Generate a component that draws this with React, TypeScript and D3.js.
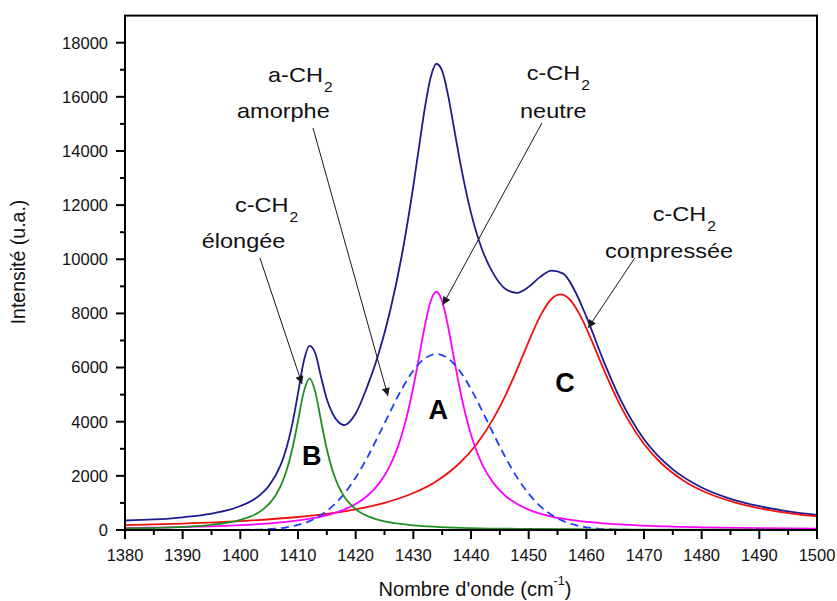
import React from 'react';
import * as d3 from 'd3';

// ---------- data ----------
const totalX = [1380,1385,1390,1395,1400,1403,1405,1407,1408,1409,1410,1411,1412,1413,1414,1415,1416,1417,1418,1420,1422,1424,1426,1428,1430,1431,1432,1433,1434,1435,1436,1437,1438,1440,1442,1444,1446,1448,1450,1452,1454,1456,1458,1460,1463,1466,1470,1475,1480,1485,1490,1495,1500];
const totalY = [350,390,470,607,885,1225,1642,2405,3030,3903,5045,6233,6800,6529,5647,4827,4298,3990,3870,4300,5296,6527,8118,10140,12706,14164,15588,16714,17221,16960,16083,14913,13718,11713,10315,9424,8900,8760,8980,9350,9580,9470,8838,7880,6241,4788,3355,2239,1571,1153,879,690,556];

const greenX = [1380,1390,1395,1400,1403,1404,1406,1407,1408,1409,1410,1411,1412,1413,1414,1415,1416,1417,1418,1420,1423,1426,1430,1440,1450,1460,1480,1500];
const greenY = [55,116,192,372,628,772,1240,1627,2185,2980,4027,5102,5600,5102,4027,2980,2185,1627,1240,772,437,278,172,72,39,25,12,7];

const pinkX = [1380,1390,1400,1405,1410,1414,1418,1420,1422,1424,1426,1427,1428,1429,1430,1431,1432,1433,1434,1435,1436,1437,1438,1439,1440,1441,1442,1444,1446,1448,1450,1454,1458,1463,1470,1480,1490,1500];
const pinkY = [72,108,179,244,352,498,754,960,1257,1703,2400,2893,3520,4310,5280,6400,7543,8448,8800,8448,7543,6400,5280,4310,3520,2893,2400,1703,1257,960,754,498,352,244,160,99,67,48];

const amorphX = [1380,1395,1400,1404,1406,1408,1410,1412,1414,1416,1418,1420,1422,1424,1426,1428,1430,1432,1434,1436,1438,1440,1442,1444,1446,1448,1450,1452,1454,1456,1458,1460,1462,1464,1468,1475,1500];
const amorphY = [0,0,5,25,51,100,186,328,551,880,1339,1938,2672,3506,4378,5205,5889,6341,6500,6341,5889,5205,4378,3506,2672,1938,1339,880,551,328,186,100,51,25,5,0,0];

const redX = [1380,1390,1400,1410,1415,1420,1425,1430,1434,1438,1441,1444,1446,1448,1450,1452,1454,1455.5,1457,1459,1461,1463,1465,1467,1470,1473,1477,1481,1486,1491,1496,1500];
const redY = [181,239,329,480,598,762,1002,1365,1805,2465,3178,4160,4983,5939,6960,7900,8541,8700,8541,7900,6960,5939,4983,4160,3178,2465,1805,1365,1002,762,598,501];

const xTicks = [1380,1390,1400,1410,1420,1430,1440,1450,1460,1470,1480,1490,1500];
const xMinor = [1385,1395,1405,1415,1425,1435,1445,1455,1465,1475,1485,1495];
const yTicks = [0,2000,4000,6000,8000,10000,12000,14000,16000,18000];
const yMinor = [1000,3000,5000,7000,9000,11000,13000,15000,17000];

// annotation texts
const noteMain = ['c-CH', 'a-CH', 'c-CH', 'c-CH'];
const noteLine2 = ['élongée', 'amorphe', 'neutre', 'compressée'];
const noteMainPos = [[1399.07, 11757], [1404.8, 16560], [1449.66, 16622], [1471.51, 11425]];
const noteLine2Pos = [[1393.3, 10406], [1399.42, 15208], [1448.5, 15208], [1463.24, 10036]];
const arrowFrom = [[1403.4, 10047], [1412.6, 14849], [1452.3, 15034], [1468.4, 10047]];
const arrowTo = [[1410.7, 5393], [1425.6, 4950], [1435.1, 8311], [1460.3, 7462]];

const peakLetters = ['A', 'B', 'C'];
const peakLetterPos = [[1434.33, 4088], [1412.38, 2401], [1456.3, 5109]];

const FONT = "'Liberation Sans', Arial, Helvetica, sans-serif";

export default function App() {
  const x = d3.scaleLinear().domain([1380, 1500]).range([125, 817]);
  const y = d3.scaleLinear().domain([0, 19000]).range([530, 15.6]);

  const mk = (xs: number[], ys: number[]) =>
    d3.line<number>()
      .x((_, i) => x(xs[i]))
      .y((d) => y(d))
      .curve(d3.curveMonotoneX)(ys) || '';

  const x0 = x(1380), x1 = x(1500), y0 = y(0), y1 = y(19000);

  return (
    <svg width={837} height={601} style={{ position: 'absolute', left: 0, top: 0, background: '#fff' }} fontFamily={FONT}>
      <defs>
        <clipPath id="plot">
          <rect x={x0} y={y1} width={x1 - x0} height={y0 - y1} />
        </clipPath>
        <marker id="arr" viewBox="0 0 10 10" refX="10" refY="5" markerWidth="10" markerHeight="8" markerUnits="userSpaceOnUse" orient="auto">
          <path d="M0,0 L10,5 L0,10 z" fill="#1a1a1a" />
        </marker>
      </defs>
      <rect x={0} y={0} width={837} height={601} fill="#fff" />

      <g clipPath="url(#plot)" fill="none" strokeLinejoin="round">
        <path d={mk(totalX, totalY)} stroke="#1c1c8f" strokeWidth={1.8} />
        <path d={mk(redX, redY)} stroke="#f01010" strokeWidth={1.8} />
        <path d={mk(pinkX, pinkY)} stroke="#ff00ff" strokeWidth={1.8} />
        <path d={mk(amorphX, amorphY)} stroke="#1f3cff" strokeWidth={1.8} strokeDasharray="8,5" />
        <path d={mk(greenX, greenY)} stroke="#1f8f1f" strokeWidth={1.8} />
      </g>

      {/* frame */}
      <rect x={x0} y={y1} width={x1 - x0} height={y0 - y1} fill="none" stroke="#000" strokeWidth={2} />

      {/* y axis ticks */}
      {yTicks.map((t) => (
        <g key={'yt' + t}>
          <line x1={x0 - 9} x2={x0} y1={y(t)} y2={y(t)} stroke="#000" strokeWidth={2} />
          <text x={x0 - 17} y={y(t)} dy="0.36em" textAnchor="end" fontSize={16.5} fill="#111">{t}</text>
        </g>
      ))}
      {yMinor.map((t) => (
        <line key={'ym' + t} x1={x0 - 5} x2={x0} y1={y(t)} y2={y(t)} stroke="#000" strokeWidth={2} />
      ))}

      {/* x axis ticks */}
      {xTicks.map((t) => (
        <g key={'xt' + t}>
          <line x1={x(t)} x2={x(t)} y1={y0} y2={y0 + 9} stroke="#000" strokeWidth={2} />
          <text x={x(t)} y={561} textAnchor="middle" fontSize={16.5} fill="#111">{t}</text>
        </g>
      ))}
      {xMinor.map((t) => (
        <line key={'xm' + t} x1={x(t)} x2={x(t)} y1={y0} y2={y0 + 5} stroke="#000" strokeWidth={2} />
      ))}

      {/* axis titles */}
      <text x={475} y={596} textAnchor="middle" fontSize={20} fill="#111">
        Nombre d'onde (cm<tspan fontSize={12.5} dy={-11}>-1</tspan><tspan dy={11}>)</tspan>
      </text>
      <text transform="translate(25,262) rotate(-90)" textAnchor="middle" fontSize={19.5} fill="#111">
        Intensité (u.a.)
      </text>

      {/* annotations */}
      {noteMain.map((s, i) => (
        <g key={'n' + i} fill="#111">
          <text transform={`translate(${x(noteMainPos[i][0])},${y(noteMainPos[i][1])}) scale(1.12,1)`} fontSize={21}>
            {s}<tspan fontSize={14} dx={1} dy={10}>2</tspan>
          </text>
          <text transform={`translate(${x(noteLine2Pos[i][0])},${y(noteLine2Pos[i][1])}) scale(1.12,1)`} fontSize={21}>
            {noteLine2[i]}
          </text>
          <line
            x1={x(arrowFrom[i][0])} y1={y(arrowFrom[i][1])}
            x2={x(arrowTo[i][0])} y2={y(arrowTo[i][1])}
            stroke="#1a1a1a" strokeWidth={1} markerEnd="url(#arr)"
          />
        </g>
      ))}

      {peakLetters.map((s, i) => (
        <text key={'p' + s} x={x(peakLetterPos[i][0])} y={y(peakLetterPos[i][1])} textAnchor="middle" fontSize={27} fontWeight="bold" fill="#000">
          {s}
        </text>
      ))}
    </svg>
  );
}
